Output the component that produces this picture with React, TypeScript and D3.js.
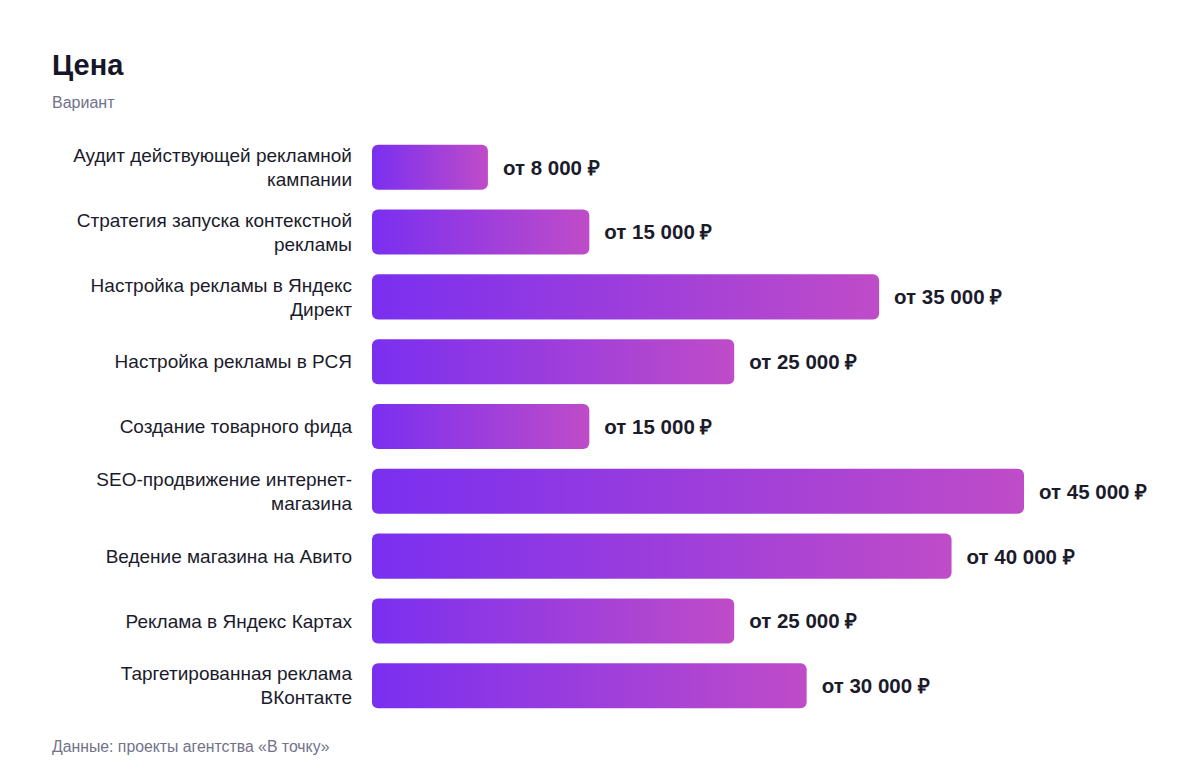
import React, { useEffect, useRef } from "react";
import * as d3 from "d3";

const categories = [
  "Аудит действующей рекламной кампании",
  "Стратегия запуска контекстной рекламы",
  "Настройка рекламы в Яндекс Директ",
  "Настройка рекламы в РСЯ",
  "Создание товарного фида",
  "SEO-продвижение интернет-магазина",
  "Ведение магазина на Авито",
  "Реклама в Яндекс Картах",
  "Таргетированная реклама ВКонтакте",
];
const prices = [8000, 15000, 35000, 25000, 15000, 45000, 40000, 25000, 30000];

const title = "Цена";
const subtitle = "Вариант";
const source = "Данные: проекты агентства «В точку»";

const width = 1200;
const height = 770;
const font = "'Liberation Sans', Arial, Helvetica, sans-serif";

const fmt = (v: number) => "от " + d3.format(",")(v).replace(/,/g, "\u00a0") + "\u00a0₽";

// split label into words, keeping hyphenated parts breakable
function tokens(text: string) {
  const out: { t: string; space: boolean }[] = [];
  text.split(" ").forEach((w) => {
    const parts = w.split(/(?<=-)/);
    parts.forEach((p, i) => out.push({ t: p, space: i === 0 }));
  });
  return out;
}

const App: React.FC = () => {
  const svgRef = useRef<SVGSVGElement | null>(null);

  useEffect(() => {
    const svg = d3.select(svgRef.current);
    svg.selectAll("*").remove();

    const x = d3.scaleLinear().domain([0, 45000]).range([372, 1024]);
    const y = d3
      .scaleBand<string>()
      .domain(categories)
      .range([135, 718])
      .paddingInner(0.305)
      .paddingOuter(0.15);

    const defs = svg.append("defs");
    const grad = defs
      .append("linearGradient")
      .attr("id", "barGrad")
      .attr("x1", "0%")
      .attr("x2", "100%")
      .attr("y1", "0%")
      .attr("y2", "0%");
    grad.append("stop").attr("offset", "0%").attr("stop-color", "#7a2ff0");
    grad.append("stop").attr("offset", "100%").attr("stop-color", "#bf4cc8");

    svg
      .append("text")
      .text(title)
      .attr("x", 52)
      .attr("y", 75)
      .attr("font-family", font)
      .attr("font-size", 29)
      .attr("font-weight", 700)
      .attr("fill", "#161629");

    svg
      .append("text")
      .text(subtitle)
      .attr("x", 52)
      .attr("y", 108)
      .attr("font-family", font)
      .attr("font-size", 16)
      .attr("fill", "#72728a");

    svg
      .append("g")
      .selectAll("rect")
      .data(categories)
      .join("rect")
      .attr("x", x(0))
      .attr("y", (d) => y(d)!)
      .attr("width", (d, i) => x(prices[i]) - x(0))
      .attr("height", y.bandwidth())
      .attr("rx", 6)
      .attr("fill", "url(#barGrad)");

    svg
      .append("g")
      .selectAll("text")
      .data(categories)
      .join("text")
      .text((d, i) => fmt(prices[i]))
      .attr("x", (d, i) => x(prices[i]) + 15)
      .attr("y", (d) => y(d)! + y.bandwidth() / 2)
      .attr("dy", "0.36em")
      .attr("font-family", font)
      .attr("font-size", 20.5)
      .attr("font-weight", 700)
      .attr("fill", "#1b1b2c");

    // category labels, wrapped to maxW
    const maxW = 300;
    const lineH = 24;
    const labels = svg.append("g");
    categories.forEach((c) => {
      const t = labels
        .append("text")
        .attr("x", 352)
        .attr("text-anchor", "end")
        .attr("font-family", font)
        .attr("font-size", 19)
        .attr("fill", "#1b1b2c");
      const toks = tokens(c);
      const lines: string[] = [];
      let cur = "";
      const probe = t.append("tspan");
      toks.forEach((tk) => {
        const next = cur === "" ? tk.t : cur + (tk.space ? " " : "") + tk.t;
        probe.text(next);
        if ((probe.node() as SVGTSpanElement).getComputedTextLength() > maxW && cur !== "") {
          lines.push(cur);
          cur = tk.t;
        } else {
          cur = next;
        }
      });
      lines.push(cur);
      probe.remove();
      const cy = y(c)! + y.bandwidth() / 2;
      const y0 = cy - ((lines.length - 1) * lineH) / 2;
      lines.forEach((l, i) => {
        t.append("tspan")
          .attr("x", 352)
          .attr("y", y0 + i * lineH)
          .attr("dy", "0.35em")
          .text(l);
      });
    });

    svg
      .append("text")
      .text(source)
      .attr("x", 52)
      .attr("y", 752)
      .attr("font-family", font)
      .attr("font-size", 15.8)
      .attr("fill", "#72728a");
  }, []);

  return <svg ref={svgRef} width={width} height={height} style={{ display: "block", margin: -8 }}></svg>;
};

export default App;
